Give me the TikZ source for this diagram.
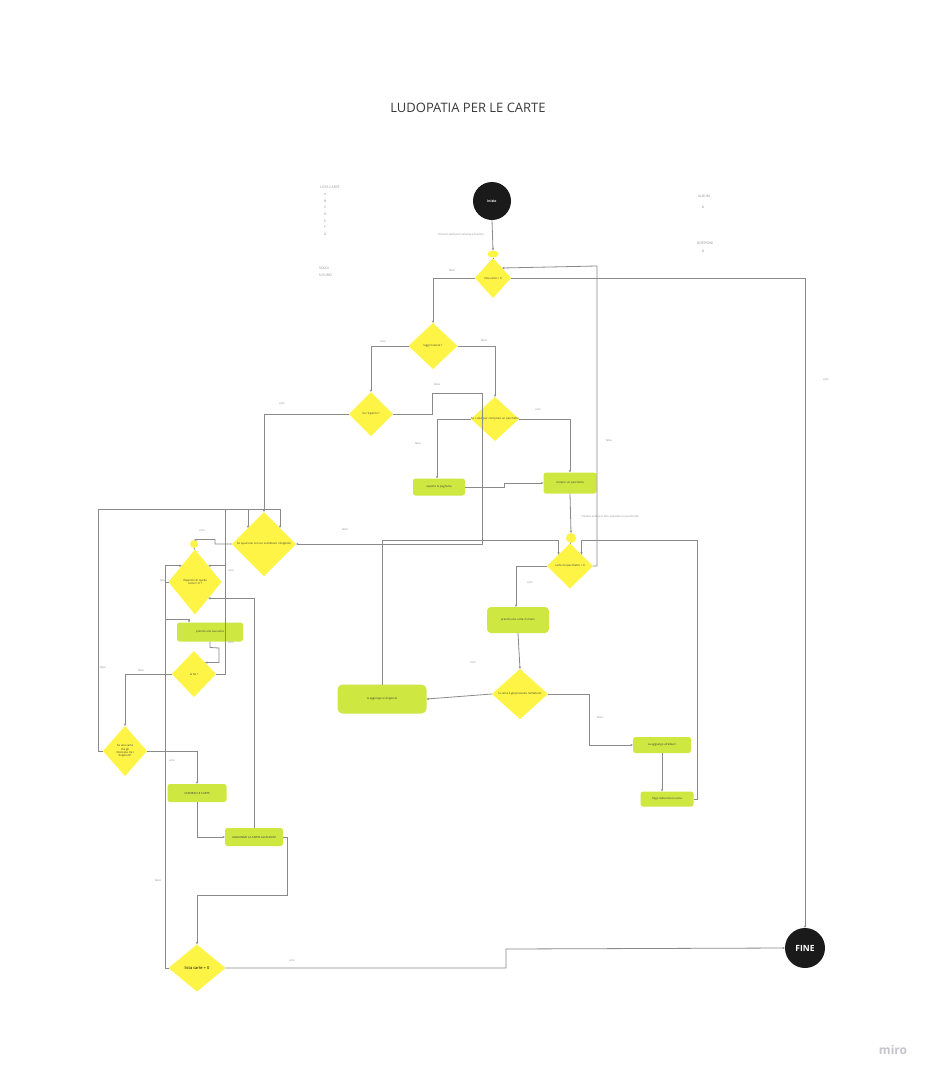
\documentclass[tikz,border=0pt]{standalone}
\usepackage{fontspec}
\setmainfont{Open Sans}
\usetikzlibrary{shapes.geometric,arrows.meta}
\definecolor{ydia}{HTML}{FEF445}
\definecolor{gbox}{HTML}{CEE741}
\definecolor{dark}{HTML}{1A1A1A}
\definecolor{ln}{HTML}{8A8A8A}
\definecolor{lbl}{HTML}{909090}
\definecolor{txt}{HTML}{3A3A3A}
\definecolor{logo}{HTML}{C4C4CC}
\tikzset{
  dia/.style={diamond, fill=ydia, draw=none, inner sep=0pt, outer sep=0pt},
  dt/.style={font=\fontsize{2.8}{3.4}\selectfont, text=txt, align=center, inner sep=0pt},
  box/.style={rectangle, rounded corners=2.5pt, fill=gbox, inner sep=0pt, outer sep=0pt, font=\fontsize{2.8}{3.4}\selectfont, text=txt, align=center},
  lab/.style={font=\fontsize{2.8}{3.4}\selectfont, text=lbl, inner sep=0pt},
  note/.style={font=\fontsize{3.4}{6.6}\selectfont, text=lbl, inner sep=0pt, align=left},
  conn/.style={draw=ln, line width=0.8pt, -{Stealth[length=2.6pt,width=2.2pt]}},
  plain/.style={draw=ln, line width=0.8pt},
  blk/.style={circle, fill=dark, inner sep=0pt, outer sep=0pt, text=white},
  junc/.style={fill=ydia, inner sep=0pt, outer sep=0pt}
}
\begin{document}
\begin{tikzpicture}[x=1pt,y=-1pt]
\path[use as bounding box, fill=white] (0,0) rectangle (929,1076);

% title and notes
\node[font=\fontsize{13}{15}\selectfont, text=txt] (title) at (468,108) {LUDOPATIA PER LE CARTE};
\node[note, anchor=north west] (lista) at (320,186) {LISTA CARTE};
\node[note, anchor=north west] (items) at (324,193) {A\\B\\C\\D\\E\\F\\G};
\node[note, anchor=north west] (soldi) at (319,267) {SOLDI\\N EURO};
\node[note] (album) at (704,196) {ALBUM};
\node[note] (albumn) at (703,207) {\#};
\node[note] (dopp) at (705,243) {DOPPIONI};
\node[note] (doppn) at (703,251) {\#};
\node[font=\fontsize{12}{12}\selectfont\bfseries, text=logo] (miro) at (893,1050) {miro};

% circles and junctions
\node[blk, minimum size=38pt, font=\fontsize{3.4}{4}\selectfont\bfseries] (cstart) at (492,201) {inizio};
\node[blk, minimum size=40pt, font=\fontsize{8.5}{9}\selectfont\bfseries] (cfine) at (805,948) {FINE};
\node[junc, ellipse, minimum width=11pt, minimum height=7pt] (j1) at (493,254) {};
\node[junc, circle, minimum size=10pt] (j2) at (571,538) {};
\node[junc, circle, minimum size=8pt] (j3) at (194,544) {};

% diamonds
\node[dia, minimum width=36pt, minimum height=40pt, label={[dt]center:{lista carte > 0}}] (dlista) at (493,278) {};
\node[dia, minimum width=49pt, minimum height=46pt, label={[dt]center:{leggi il valore ?}}] (dleggi) at (433,346) {};
\node[dia, minimum width=44pt, minimum height=44pt, label={[dt]center:{ho risparmi ?}}] (drisp) at (371,414) {};
\node[dia, minimum width=48pt, minimum height=44pt, label={[dt]center:{ho i soldi per comprare un pacchetto}}] (dsoldi) at (495,419) {};
\node[dia, minimum width=46pt, minimum height=45pt, label={[dt]center:{carte nel pacchetto > 0}}] (dpacch) at (570,566) {};
\node[dia, minimum width=56pt, minimum height=50pt, label={[dt]center:{la carta è già presente nell'album}}] (dpres) at (520,694) {};
\node[dia, minimum width=64pt, minimum height=64pt, label={[dt]center:{ho qualcuno con cui scambiare i doppioni}}] (dscambi) at (264,544) {};
\node[dia, minimum width=53pt, minimum height=65pt, label={[dt]center:{doppioni di quella\\carta != 0 ?}}] (ddopp) at (195,582) {};
\node[dia, minimum width=44pt, minimum height=46pt, label={[dt]center:{la ho ?}}] (dlaho) at (194,674) {};
\node[dia, minimum width=44pt, minimum height=50pt, label={[dt]center:{ho una carta\\che gli\\interessa tra i\\doppioni?}}] (dcarta) at (125,751) {};
\node[dia, minimum width=57pt, minimum height=47pt, label={[dt, font=\fontsize{4}{5}\selectfont, text=black]center:{lista carte = 0}}] (dfine0) at (197,968) {};

% boxes
\node[box, minimum width=52pt, minimum height=17pt] (bpagh) at (439,487) {aspetto la paghetta};
\node[box, minimum width=53pt, minimum height=21pt] (bcompro) at (570,483) {compro un pacchetto};
\node[box, minimum width=62pt, minimum height=26pt, rounded corners=4pt] (bprendo) at (518,620) {prendo una carta in mano};
\node[box, minimum width=89pt, minimum height=29pt, rounded corners=5pt] (bdopp) at (382,699) {la aggiungo ai doppioni};
\node[box, minimum width=58pt, minimum height=16pt] (balbum) at (662,745) {La aggiungo all'album};
\node[box, minimum width=53pt, minimum height=15pt] (btolgo) at (667,799) {tolgo dalla lista la carta};
\node[box, minimum width=66pt, minimum height=19pt] (bsua) at (210,632) {prendo una sua carta};
\node[box, minimum width=59pt, minimum height=18pt] (bscambio) at (197,793) {SCAMBIO LE CARTE};
\node[box, minimum width=58pt, minimum height=18pt] (baggiungo) at (254,837) {AGGIUNGO LA CARTA ALL'ALBUM};

% connectors
\draw[conn] (cstart.south) -- (j1.north);
\draw[plain] (j1.south) -- (dlista.north);
\draw[conn] (dlista.west) -| (dleggi.north);
\draw[conn] (dlista.east) -| (cfine.north);
\draw[conn] (dpacch.east) -- (597,566) -- (597,266) -- (dlista.north east);
\draw[conn] (dleggi.west) -| (drisp.north);
\draw[conn] (dleggi.east) -| (dsoldi.north);
\draw[conn] (drisp.west) -| (dscambi.north);
\draw[conn] (drisp.east) -- (432,414) -- (432,393) -- (482,393) -- (482,544) -- (dscambi.east);
\draw[conn] (dsoldi.west) -| ([xshift=-2pt]bpagh.north);
\draw[conn] (dsoldi.east) -| (bcompro.north);
\draw[conn] (bpagh.east) -- (504,487) -- (504,483) -- (bcompro.west);
\draw[conn] (bcompro.south) -- (j2.north);
\draw[plain] (j2.south) -- (dpacch.north);
\draw[conn] (dpacch.west) -| ([xshift=-2pt]bprendo.north);
\draw[conn] (bprendo.south) -- (dpres.north);
\draw[conn] (dpres.west) -- (bdopp.east);
\draw[conn] (dpres.east) -- (589,694) |- (balbum.west);
\draw[conn] (balbum.south) -- (balbum.south |- btolgo.north);
\draw[conn] (btolgo.east) -- (697,799) -- (697,540) -| (dpacch.north east);
\draw[conn] (bdopp.north) -- (382,540) -| (dpacch.north west);
\draw[conn] (dcarta.west) -- (98,751) -- (98,509) -| (dscambi.north west);
\draw[conn] (dlaho.east) -- (225,674) -- (225,509) -| (dscambi.north east);
\draw[conn] (dlaho.east) -- (225,674) |- (ddopp.north east);
\draw[conn] (dscambi.west) -- (215,544) -- (215,539.5) -- (198,539.5) -- (j3.north);
\draw[plain] (j3.south) -- (ddopp.north);
\draw[conn] (dfine0.west) -- (165,968) |- (ddopp.north west);
\draw[conn] (ddopp.west) -- (165,582) -- (165,619) -| ([xshift=-21pt]bsua.north);
\draw[conn] (baggiungo.north) |- (ddopp.south east);
\draw[conn] (bsua.south) -- ++(0,6) -- (219,648) -- (219,662.5) -- (dlaho.north east);
\draw[conn] (dlaho.west) -| (dcarta.north);
\draw[conn] (dcarta.east) -| (bscambio.north);
\draw[conn] (bscambio.south) |- (baggiungo.west);
\draw[conn] (baggiungo.east) -- (287,837) -- (287,895) -| (dfine0.north);
\draw[conn] (dfine0.east) -- (506,968) -- (506,949) -- (cfine.west);

% connector labels
\node[lab] (l1) at (461,235) {Trovare soldi per comprare bustine};
\node[lab] (l2) at (452,270) {falso};
\node[lab] (l3) at (826,380) {vero};
\node[lab] (l4) at (609,440) {falso};
\node[lab] (l5) at (383,342) {vero};
\node[lab] (l6) at (484,340) {falso};
\node[lab] (l7) at (282,404) {vero};
\node[lab] (l8) at (437,384) {falso};
\node[lab] (l9) at (418,443) {falso};
\node[lab] (l10) at (538,410) {vero};
\node[lab] (l11) at (610,517) {Trovare soldi per fare acquisto un pacchetto};
\node[lab] (l12) at (345,529) {falso};
\node[lab] (l13) at (530,583) {vero};
\node[lab] (l14) at (473,663) {vero};
\node[lab] (l15) at (600,717) {falso};
\node[lab] (l16) at (202,531) {vero};
\node[lab] (l17) at (163,580) {falso};
\node[lab] (l18) at (231,571) {vero};
\node[lab] (l19) at (231,643) {vero};
\node[lab] (l20) at (141,670) {falso};
\node[lab] (l21) at (103,667) {falso};
\node[lab] (l22) at (172,761) {vero};
\node[lab] (l23) at (158,880) {falso};
\node[lab] (l24) at (292,961) {vero};
\end{tikzpicture}
\end{document}
